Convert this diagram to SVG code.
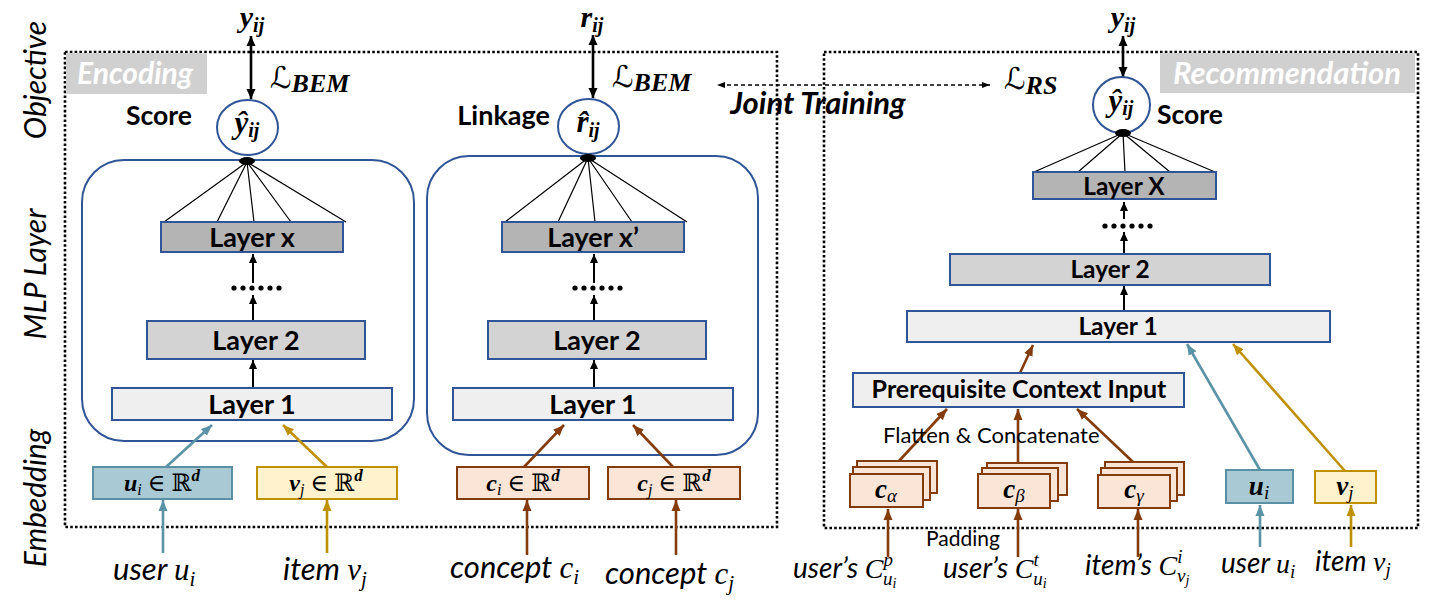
<svg xmlns="http://www.w3.org/2000/svg" width="1433" height="602" viewBox="0 0 1433 602">
<defs>
<style>
.dotbox{fill:none;stroke:#000;stroke-width:2.6;stroke-dasharray:2.6 2.2}
.mlp{fill:#fff;stroke:#2f5597;stroke-width:2}
.lx{fill:#b4b4b4;stroke:#2f5597;stroke-width:2}
.l2{fill:#d3d3d3;stroke:#2f5597;stroke-width:2}
.l1{fill:#efefef;stroke:#2f5597;stroke-width:2}
.ue{fill:#a9cad4;stroke:#5b8fa3;stroke-width:2}
.ve{fill:#fff2cc;stroke:#bf9000;stroke-width:2}
.ce{fill:#fbe5d6;stroke:#843c0c;stroke-width:2}
.circ{fill:#fff;stroke:#2f5597;stroke-width:2}
.sans{font-family:Lato,"Open Sans","Liberation Sans",sans-serif;fill:#000}
.b{font-weight:bold}
.i{font-style:italic}
.math{font-family:"Liberation Serif","DejaVu Serif",serif;font-style:italic;fill:#000}
.mb{font-weight:bold}
.scr{font-family:"DejaVu Serif","DejaVu Sans",serif;fill:#000}
.fan{stroke:#000;stroke-width:1.2;fill:none}
.ka{stroke:#000;stroke-width:2;fill:none;marker-end:url(#ak)}
.kd{stroke:#000;stroke-width:2.6;fill:none;marker-start:url(#akd);marker-end:url(#akd)}
.ta{stroke:#5b93a6;stroke-width:2.6;fill:none;marker-end:url(#at)}
.ga{stroke:#bf9000;stroke-width:2.6;fill:none;marker-end:url(#ag)}
.ba{stroke:#843c0c;stroke-width:2.6;fill:none;marker-end:url(#ab)}
.jt{stroke:#000;stroke-width:1.3;stroke-dasharray:4 3;fill:none;marker-start:url(#aj);marker-end:url(#aj)}
</style>
<marker id="ak" markerUnits="userSpaceOnUse" markerWidth="10" markerHeight="10" refX="9" refY="5" orient="auto"><path d="M0,1 L9,5 L0,9 z" fill="#000"/></marker>
<marker id="akd" markerUnits="userSpaceOnUse" markerWidth="12" markerHeight="12" refX="10" refY="6" orient="auto-start-reverse"><path d="M0,1.5 L10,6 L0,10.5 z" fill="#000"/></marker>
<marker id="at" markerUnits="userSpaceOnUse" markerWidth="12" markerHeight="12" refX="11" refY="6" orient="auto"><path d="M0,1.5 L11,6 L0,10.5 z" fill="#5b93a6"/></marker>
<marker id="ag" markerUnits="userSpaceOnUse" markerWidth="12" markerHeight="12" refX="11" refY="6" orient="auto"><path d="M0,1.5 L11,6 L0,10.5 z" fill="#bf9000"/></marker>
<marker id="ab" markerUnits="userSpaceOnUse" markerWidth="12" markerHeight="12" refX="11" refY="6" orient="auto"><path d="M0,1.5 L11,6 L0,10.5 z" fill="#843c0c"/></marker>
<marker id="aj" markerUnits="userSpaceOnUse" markerWidth="10" markerHeight="10" refX="8" refY="4" orient="auto-start-reverse"><path d="M0,1 L8,4 L0,7 z" fill="#000"/></marker>
</defs>
<rect width="1433" height="602" fill="#fff"/>

<g id="row-labels" class="sans i" font-size="30">
<text transform="translate(46,80) rotate(-90)" text-anchor="middle">Objective</text>
<text transform="translate(46,274) rotate(-90)" text-anchor="middle">MLP Layer</text>
<text transform="translate(46,498) rotate(-90)" text-anchor="middle">Embedding</text>
</g>

<g id="panel-encoding">
<rect class="dotbox" x="65" y="52" width="712" height="475"/>
<rect x="66" y="53" width="141" height="41" fill="#d0d0d0"/>
<text x="135" y="84" text-anchor="middle" class="sans b i" font-size="30" style="fill:#fff">Encoding</text>
</g>
<g id="panel-recommendation">
<rect class="dotbox" x="824" y="52" width="594" height="476"/>
<rect x="1160" y="53" width="255" height="40" fill="#d0d0d0"/>
<text x="1287" y="84" text-anchor="middle" class="sans b i" font-size="31" style="fill:#fff">Recommendation</text>
</g>

<g id="mlp-left"><rect class="mlp" x="82" y="160" width="332" height="281" rx="42"/></g>
<g id="mlp-mid"><rect class="mlp" x="427" y="156" width="331" height="299" rx="42"/></g>

<g id="connectors">
<polyline class="fan" points="164,222 247,162 217,222 247,162 254,222 247,162 291,222 247,162 346,222"/>
<polyline class="fan" points="505,222 588,158 558,222 588,158 595,222 588,158 632,222 588,158 687,222"/>
<polyline class="fan" points="1034,172 1123,133 1078,172 1123,133 1125,172 1123,133 1170,172 1123,133 1215,172"/>
<line class="kd" x1="251" y1="99" x2="251" y2="36"/>
<line class="kd" x1="593" y1="98" x2="593" y2="35"/>
<line class="kd" x1="1123" y1="77" x2="1123" y2="36"/>
<line class="jt" x1="990" y1="85" x2="717" y2="85"/>
<line class="ka" x1="253" y1="388" x2="253" y2="360"/>
<line class="ka" x1="253" y1="321" x2="253" y2="295"/>
<line class="ka" x1="253" y1="283" x2="253" y2="254"/>
<line class="ka" x1="594" y1="388" x2="594" y2="360"/>
<line class="ka" x1="594" y1="321" x2="594" y2="295"/>
<line class="ka" x1="594" y1="283" x2="594" y2="254"/>
<line class="ka" x1="1124" y1="311" x2="1124" y2="286"/>
<line class="ka" x1="1124" y1="254" x2="1124" y2="232"/>
<line class="ka" x1="1124" y1="219" x2="1124" y2="202"/>
<line class="ta" x1="166" y1="467" x2="212" y2="425"/>
<line class="ga" x1="327" y1="467" x2="283" y2="425"/>
<line class="ta" x1="163" y1="553" x2="163" y2="500"/>
<line class="ga" x1="327" y1="553" x2="327" y2="500"/>
<line class="ba" x1="524" y1="467" x2="564" y2="425"/>
<line class="ba" x1="673" y1="467" x2="633" y2="425"/>
<line class="ba" x1="527" y1="555" x2="527" y2="500"/>
<line class="ba" x1="676" y1="555" x2="676" y2="500"/>
<line class="ba" x1="1020" y1="373" x2="1033" y2="345"/>
<line class="ba" x1="899" y1="461" x2="947" y2="409"/>
<line class="ba" x1="1018" y1="462" x2="1018" y2="409"/>
<line class="ba" x1="1133" y1="462" x2="1077" y2="409"/>
<line class="ba" x1="888" y1="557" x2="888" y2="509"/>
<line class="ba" x1="1018" y1="557" x2="1018" y2="509"/>
<line class="ba" x1="1138" y1="557" x2="1138" y2="509"/>
<line class="ta" x1="1260" y1="470" x2="1187" y2="344"/>
<line class="ga" x1="1345" y1="471" x2="1233" y2="344"/>
<line class="ta" x1="1260" y1="547" x2="1260" y2="505"/>
<line class="ga" x1="1351" y1="547" x2="1351" y2="505"/>
</g>

<g id="dots" fill="#000">
<circle cx="234" cy="288" r="2.6"/><circle cx="243" cy="288" r="2.6"/><circle cx="252" cy="288" r="2.6"/><circle cx="261" cy="288" r="2.6"/><circle cx="270" cy="288" r="2.6"/><circle cx="279" cy="288" r="2.6"/>
<circle cx="575" cy="288" r="2.6"/><circle cx="584" cy="288" r="2.6"/><circle cx="593" cy="288" r="2.6"/><circle cx="602" cy="288" r="2.6"/><circle cx="611" cy="288" r="2.6"/><circle cx="620" cy="288" r="2.6"/>
<circle cx="1105" cy="226" r="2.6"/><circle cx="1114" cy="226" r="2.6"/><circle cx="1123" cy="226" r="2.6"/><circle cx="1132" cy="226" r="2.6"/><circle cx="1141" cy="226" r="2.6"/><circle cx="1150" cy="226" r="2.6"/>
</g>

<g id="obj-left">
<text x="252" y="27" text-anchor="middle" class="math mb" font-size="30">y<tspan font-size="20" dy="5">ij</tspan></text>
<text x="270" y="88" class="scr" font-size="30">ℒ<tspan class="math mb" font-size="26" dy="4">BEM</tspan></text>
<text x="192" y="125" text-anchor="end" class="sans b" font-size="26.5">Score</text>
<ellipse class="circ" cx="247.5" cy="127.5" rx="30.5" ry="27.5"/>
<text x="247" y="133" text-anchor="middle" class="math mb" font-size="31">ŷ<tspan font-size="20" dy="4">ij</tspan></text>
<ellipse cx="247" cy="161" rx="8" ry="4" fill="#000"/>
</g>
<g id="obj-mid">
<text x="592" y="27" text-anchor="middle" class="math mb" font-size="30">r<tspan font-size="20" dy="5">ij</tspan></text>
<text x="612" y="87" class="scr" font-size="30">ℒ<tspan class="math mb" font-size="26" dy="4">BEM</tspan></text>
<text x="550" y="125" text-anchor="end" class="sans b" font-size="27">Linkage</text>
<ellipse class="circ" cx="588.5" cy="126.5" rx="30.5" ry="27.5"/>
<text x="588" y="132" text-anchor="middle" class="math mb" font-size="31">r̂<tspan font-size="20" dy="5">ij</tspan></text>
<ellipse cx="588" cy="158" rx="8" ry="4" fill="#000"/>
</g>
<g id="obj-right">
<text x="1123" y="27" text-anchor="middle" class="math mb" font-size="30">y<tspan font-size="20" dy="5">ij</tspan></text>
<text x="1004" y="89" class="scr" font-size="30">ℒ<tspan class="math mb" font-size="26" dy="5">RS</tspan></text>
<text x="1157" y="124" class="sans b" font-size="26.5">Score</text>
<ellipse class="circ" cx="1121.5" cy="105" rx="28.5" ry="28"/>
<text x="1121" y="111" text-anchor="middle" class="math mb" font-size="31">ŷ<tspan font-size="20" dy="4">ij</tspan></text>
<ellipse cx="1123" cy="133" rx="8" ry="4" fill="#000"/>
</g>
<g id="joint-training">
<text x="818" y="114" text-anchor="middle" class="sans b i" font-size="31">Joint Training</text>
</g>

<g id="layers-left" class="sans b" font-size="27" text-anchor="middle">
<rect class="lx" x="161" y="222" width="182" height="30"/><text x="252" y="247">Layer x</text>
<rect class="l2" x="147" y="321" width="218" height="38"/><text x="256" y="350">Layer 2</text>
<rect class="l1" x="112" y="388" width="280" height="32"/><text x="252" y="414">Layer 1</text>
</g>
<g id="layers-mid" class="sans b" font-size="27" text-anchor="middle">
<rect class="lx" x="502" y="222" width="182" height="30"/><text x="593" y="247">Layer x’</text>
<rect class="l2" x="488" y="321" width="218" height="38"/><text x="597" y="350">Layer 2</text>
<rect class="l1" x="453" y="388" width="280" height="32"/><text x="593" y="414">Layer 1</text>
</g>
<g id="layers-right" class="sans b" font-size="24.5" text-anchor="middle">
<rect class="lx" x="1033" y="172" width="183" height="27"/><text x="1124" y="195">Layer X</text>
<rect class="l2" x="950" y="254" width="320" height="31"/><text x="1110" y="278">Layer 2</text>
<rect class="l1" x="907" y="311" width="423" height="31"/><text x="1118" y="335">Layer 1</text>
<rect class="l1" x="853" y="373" width="331" height="34"/><text x="1019" y="398" font-size="25">Prerequisite Context Input</text>
</g>

<g id="emb-u"><rect class="ue" x="93" y="467" width="139" height="32"/>
<text x="162" y="491" text-anchor="middle" class="math" font-size="24"><tspan class="mb">u</tspan><tspan font-size="16" dy="4">i</tspan><tspan dy="-4" font-style="normal"> ∈ ℝ</tspan><tspan class="mb" font-size="17" dy="-10">d</tspan></text></g>
<g id="emb-v"><rect class="ve" x="257" y="467" width="140" height="32"/>
<text x="326" y="491" text-anchor="middle" class="math" font-size="24"><tspan class="mb">v</tspan><tspan font-size="16" dy="4">j</tspan><tspan dy="-4" font-style="normal"> ∈ ℝ</tspan><tspan class="mb" font-size="17" dy="-10">d</tspan></text></g>
<g id="emb-ci"><rect class="ce" x="457" y="467" width="132" height="32"/>
<text x="523" y="491" text-anchor="middle" class="math" font-size="24"><tspan class="mb">c</tspan><tspan font-size="16" dy="4">i</tspan><tspan dy="-4" font-style="normal"> ∈ ℝ</tspan><tspan class="mb" font-size="17" dy="-10">d</tspan></text></g>
<g id="emb-cj"><rect class="ce" x="608" y="467" width="132" height="32"/>
<text x="674" y="491" text-anchor="middle" class="math" font-size="24"><tspan class="mb">c</tspan><tspan font-size="16" dy="4">j</tspan><tspan dy="-4" font-style="normal"> ∈ ℝ</tspan><tspan class="mb" font-size="17" dy="-10">d</tspan></text></g>

<g id="ctx-alpha">
<rect class="ce" x="857" y="461" width="80" height="32"/><rect class="ce" x="853" y="467" width="77" height="33"/><rect class="ce" x="850" y="474" width="73" height="33"/>
<text x="886" y="498" text-anchor="middle" class="math" font-size="27"><tspan class="mb">c</tspan><tspan font-size="19" dy="4">α</tspan></text>
</g>
<g id="ctx-beta">
<rect class="ce" x="987" y="463" width="80" height="32"/><rect class="ce" x="982" y="468" width="76" height="33"/><rect class="ce" x="978" y="474" width="72" height="34"/>
<text x="1014" y="498" text-anchor="middle" class="math" font-size="27"><tspan class="mb">c</tspan><tspan font-size="19" dy="4">β</tspan></text>
</g>
<g id="ctx-gamma">
<rect class="ce" x="1105" y="462" width="79" height="33"/><rect class="ce" x="1101" y="468" width="76" height="33"/><rect class="ce" x="1098" y="475" width="72" height="33"/>
<text x="1134" y="498" text-anchor="middle" class="math" font-size="27"><tspan class="mb">c</tspan><tspan font-size="19" dy="4">γ</tspan></text>
</g>
<g id="emb-u-right"><rect class="ue" x="1226" y="470" width="67" height="33"/>
<text x="1259" y="495" text-anchor="middle" class="math" font-size="27"><tspan class="mb">u</tspan><tspan font-size="19" dy="4">i</tspan></text></g>
<g id="emb-v-right"><rect class="ve" x="1315" y="471" width="61" height="32"/>
<text x="1345" y="495" text-anchor="middle" class="math" font-size="27"><tspan class="mb">v</tspan><tspan font-size="19" dy="4">j</tspan></text></g>

<g id="notes" class="sans" font-size="22">
<text x="883" y="443">Flatten &amp; Concatenate</text>
<text x="926" y="546" font-size="21">Padding</text>
</g>

<g id="inputs" font-size="31">
<text x="113" y="580"><tspan class="sans i">user </tspan><tspan class="math">u</tspan><tspan class="math" font-size="21" dy="6">i</tspan></text>
<text x="283" y="580"><tspan class="sans i">item </tspan><tspan class="math">v</tspan><tspan class="math" font-size="21" dy="6">j</tspan></text>
<text x="450" y="578"><tspan class="sans i">concept </tspan><tspan class="math">c</tspan><tspan class="math" font-size="21" dy="6">i</tspan></text>
<text x="605" y="584"><tspan class="sans i">concept </tspan><tspan class="math">c</tspan><tspan class="math" font-size="21" dy="6">j</tspan></text>
</g>
<g id="inputs-right" font-size="28">
<text x="793" y="578"><tspan class="sans i">user’s </tspan><tspan class="math">C</tspan><tspan class="math" font-size="19" dy="-12">p</tspan><tspan class="math" font-size="19" dx="-10" dy="19">u</tspan><tspan class="math" font-size="14" dy="3">i</tspan></text>
<text x="943" y="578"><tspan class="sans i">user’s </tspan><tspan class="math">C</tspan><tspan class="math" font-size="19" dy="-12">t</tspan><tspan class="math" font-size="19" dx="-5.5" dy="19">u</tspan><tspan class="math" font-size="14" dy="3">i</tspan></text>
<text x="1085" y="575"><tspan class="sans i">item’s </tspan><tspan class="math">C</tspan><tspan class="math" font-size="19" dy="-12">i</tspan><tspan class="math" font-size="19" dx="-5.5" dy="19">v</tspan><tspan class="math" font-size="14" dy="3">j</tspan></text>
<text x="1221" y="573"><tspan class="sans i">user </tspan><tspan class="math">u</tspan><tspan class="math" font-size="19" dy="5">i</tspan></text>
<text x="1315" y="571"><tspan class="sans i">item </tspan><tspan class="math">v</tspan><tspan class="math" font-size="19" dy="5">j</tspan></text>
</g>
</svg>
